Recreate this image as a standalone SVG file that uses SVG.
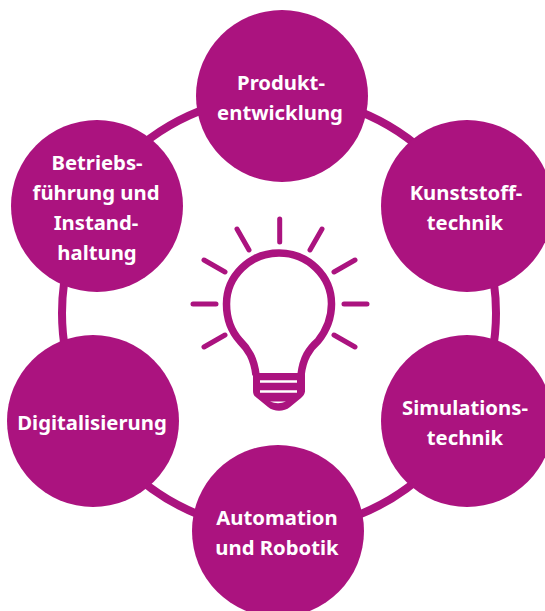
<svg xmlns="http://www.w3.org/2000/svg" width="545" height="611" viewBox="0 0 545 611">
<style>
.c{fill:#ab137f}
.r{fill:none;stroke:#ab137f;stroke-width:8}
.b{fill:none;stroke:#ab137f;stroke-width:7.500;stroke-linejoin:round}
.s{fill:none;stroke:#ab137f;stroke-width:5;stroke-linecap:round}
text{font-family:"Noto Sans","Liberation Sans",sans-serif;font-weight:700;font-size:20.300px;fill:#fff;text-anchor:middle;font-variant-ligatures:none}
</style>
<rect width="545" height="611" fill="#fff"/>
<g id="connectors"><circle class="r" cx="279" cy="313" r="217"/></g>
<g id="produkt"><circle class="c" cx="282" cy="96" r="86"/><text x="281" y="90">Produkt-</text><text x="280" y="120">entwicklung</text></g>
<g id="kunststoff"><circle class="c" cx="467" cy="206" r="86"/><text x="466" y="200">Kunststoff-</text><text x="465" y="230">technik</text></g>
<g id="simulation"><circle class="c" cx="467" cy="421" r="86"/><text x="465" y="415">Simulations-</text><text x="465" y="445">technik</text></g>
<g id="automation"><circle class="c" cx="278" cy="531" r="86"/><text x="277" y="525">Automation</text><text x="277" y="555">und Robotik</text></g>
<g id="digital"><circle class="c" cx="93" cy="421" r="86"/><text x="92" y="430">Digitalisierung</text></g>
<g id="betrieb"><circle class="c" cx="97" cy="206" r="86"/><text x="97" y="170">Betriebs-</text><text x="96" y="200">führung und</text><text x="96" y="230">Instand-</text><text x="97" y="260">haltung</text></g>
<g id="bulb">
<path class="b" d="M256 375C254 358 248 349 240 341C231 331 226.500 319 226.500 304C226.500 276 250 253 279 253C308 253 331.500 276 331.500 304C331.500 319 326 331 318 341C309 349 303 358 301 375V392"/>
<path d="M253 373H305V391C305 394 303 396 301 398L290 407C284 412 274 412 268 407L257 398C254 396 253 394 253 391Z" fill="#ab137f"/>
<path d="M260 381.500H297M260 391.500H297" stroke="#fff" stroke-width="2.500" fill="none"/>
<path d="M270 401.500H286Q278 405 270 401.500Z" fill="#fff"/>
<path class="s" d="M279.700 219V242M237 229L249 250M322 229L310 250M204 260L225 272M355 260L334 272M193 304H216M344 304H367M204 347L225 335M355 347L334 335"/>
</g>
</svg>
